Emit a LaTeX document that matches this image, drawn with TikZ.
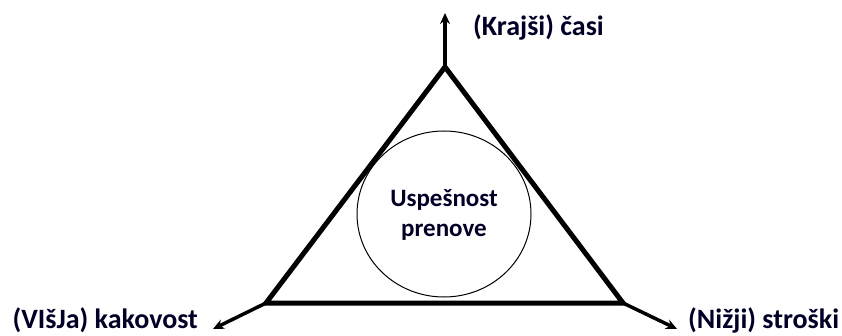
\documentclass[tikz,border=0pt]{standalone}
\usepackage{fontspec}
\setmainfont{Carlito}
\usetikzlibrary{arrows.meta,shapes.geometric}
\begin{document}
\begin{tikzpicture}[x=1pt,y=-1pt,
  edge/.style={line width=5pt,line join=miter},
  axis/.style={line width=3.5pt,-{Stealth[length=11pt,width=10pt]}},
  lab/.style={font=\fontsize{28}{30}\selectfont\bfseries,inner sep=0pt,text=black!85!blue},
  midlab/.style={font=\fontsize{25}{30}\selectfont\bfseries,inner sep=0pt,text=black!85!blue}]
\useasboundingbox (0,0) rectangle (842,336);
\coordinate (A) at (445,67);
\coordinate (B) at (266,303);
\coordinate (C) at (623,303);
\coordinate (At) at (445,13);
\coordinate (Bt) at (213,329);
\coordinate (Ct) at (677,329);
\draw[edge] (A) -- (B) -- (C) -- cycle;
\draw[axis] (A) -- (At);
\draw[axis] (B) -- (Bt);
\draw[axis] (C) -- (Ct);
\node[draw,ellipse,line width=1pt,minimum width=174pt,minimum height=166pt,inner sep=0pt] (circ) at (444,214) {};
\node[midlab,align=center] (mid) at (444,215) {Uspešnost\\prenove};
\node[lab,anchor=west] (top) at (473,27) {(Krajši) časi};
\node[lab,anchor=east] (left) at (198,320) {(VIšJa) kakovost};
\node[lab,anchor=west] (right) at (688,320) {(Nižji) stroški};
\end{tikzpicture}
\end{document}
